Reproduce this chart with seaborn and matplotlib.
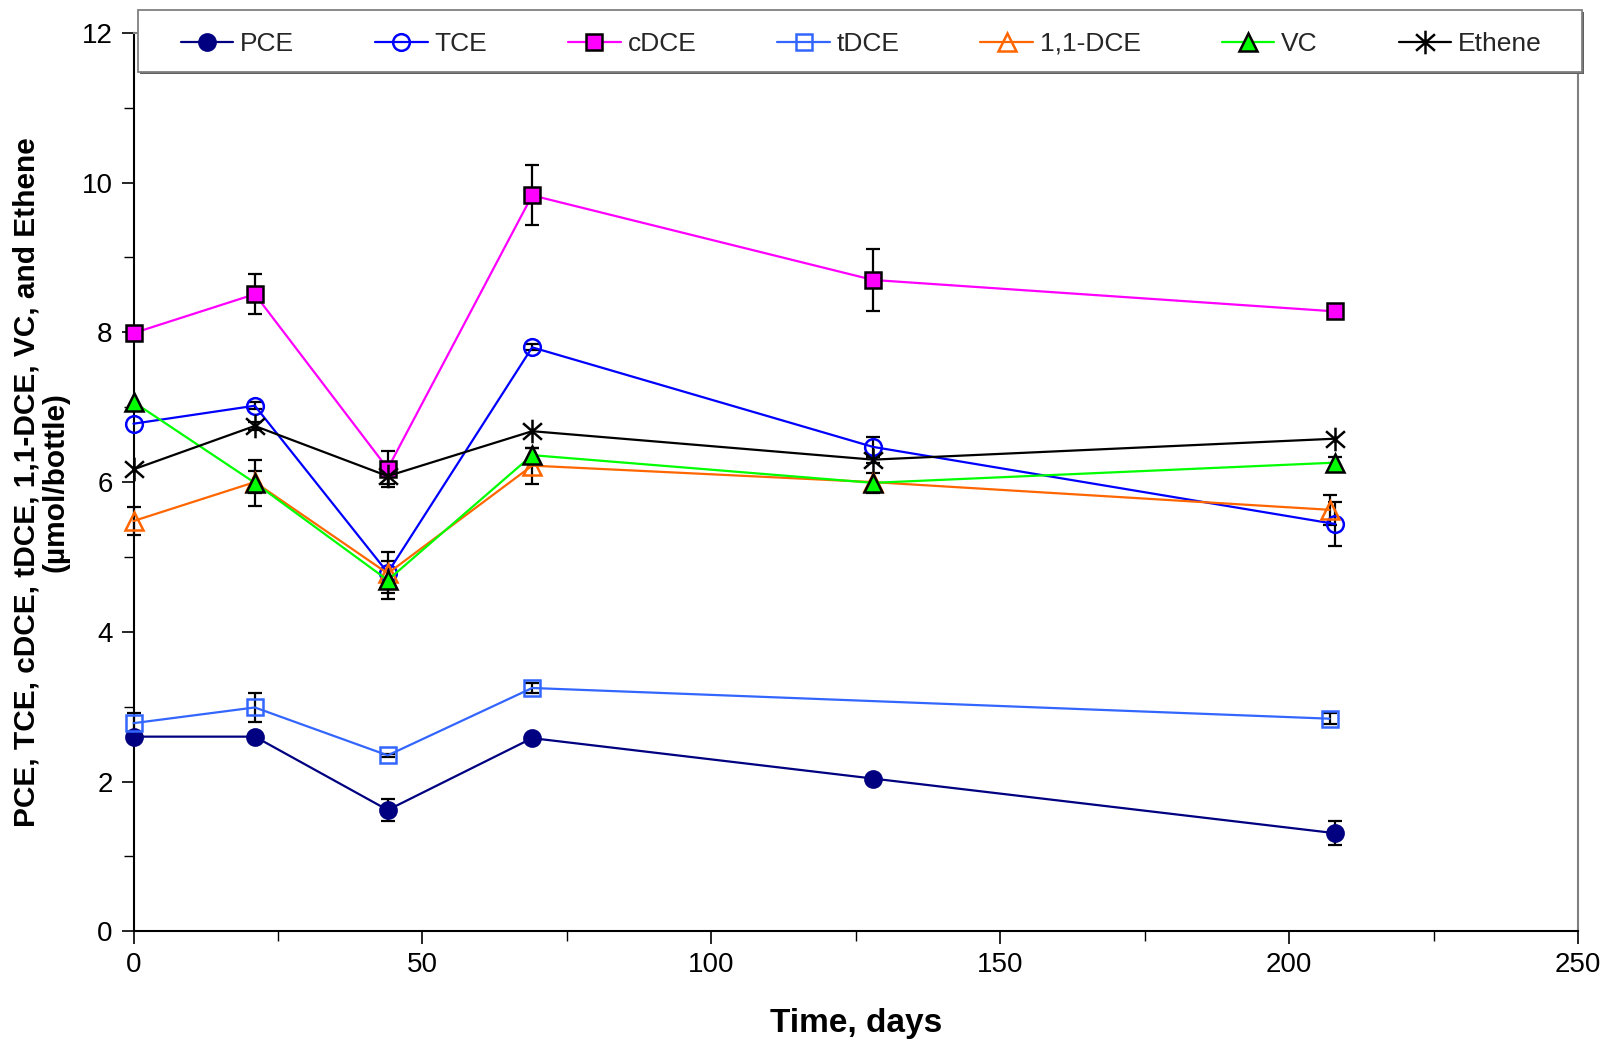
import numpy as np
import pandas as pd
import matplotlib
matplotlib.use("Agg")
import matplotlib.pyplot as plt
from matplotlib.path import Path
from matplotlib.patches import Rectangle
import seaborn as sns

# ---- data ----
days = [0, 21, 44, 69, 128, 208]
days_b = [0, 21, 44, 69, 207]
days_c = [0, 21, 44, 69, 128, 207]

pce = [2.60, 2.60, 1.62, 2.58, 2.04, 1.31]
pce_err = [np.nan, np.nan, 0.15, np.nan, np.nan, 0.16]
tce = [6.78, 7.02, 4.79, 7.80, 6.47, 5.44]
tce_err = [np.nan, 0.05, 0.27, 0.04, 0.13, 0.30]
cdce = [7.99, 8.51, 6.18, 9.83, 8.70, 8.28]
cdce_err = [np.nan, 0.27, 0.24, 0.40, 0.42, np.nan]
tdce = [2.78, 2.99, 2.35, 3.25, 2.84]
tdce_err = [0.14, 0.19, 0.02, 0.07, 0.07]
dce11 = [5.48, 6.00, 4.78, 6.22, 6.00, 5.63]
dce11_err = [0.19, 0.15, np.nan, 0.24, np.nan, 0.20]
vc = [7.07, 5.99, 4.69, 6.36, 5.99, 6.26]
vc_err = [np.nan, 0.31, 0.25, 0.10, 0.13, 0.08]
ethene = [6.17, 6.75, 6.08, 6.68, 6.30, 6.58]
ethene_err = [np.nan, 0.05, 0.10, np.nan, 0.05, np.nan]

labels = ["PCE", "TCE", "cDCE", "tDCE", "1,1-DCE", "VC", "Ethene"]

sns.set_style("ticks")
plt.rcParams['font.family'] = ['Liberation Sans', 'DejaVu Sans']

W, H = 1610, 1042
fig = plt.figure(figsize=(W / 100, H / 100), dpi=100)
ax = fig.add_axes([133.5 / W, 1 - 931.3 / H, (1578 - 133.5) / W, (931.3 - 32.9) / H])

star = Path([(0, -1), (0, 1), (-0.8, -0.7), (0.8, 0.7), (-0.8, 0.7), (0.8, -0.7)],
            [Path.MOVETO, Path.LINETO, Path.MOVETO, Path.LINETO, Path.MOVETO, Path.LINETO])

series = [
    (labels[0], days, pce, pce_err, dict(color="#000080", marker="o", mfc="#000080", mec="#000080", mew=1.5, ms=12)),
    (labels[1], days, tce, tce_err, dict(color="#0000FF", marker="o", mfc="none", mec="#0000FF", mew=1.8, ms=12)),
    (labels[2], days, cdce, cdce_err, dict(color="#FF00FF", marker="s", mfc="#FF00FF", mec="black", mew=1.8, ms=11)),
    (labels[3], days_b, tdce, tdce_err, dict(color="#3366FF", marker="s", mfc="none", mec="#3366FF", mew=1.8, ms=11)),
    (labels[4], days_c, dce11, dce11_err, dict(color="#FF6600", marker="^", mfc="none", mec="#FF6600", mew=1.8, ms=13)),
    (labels[5], days, vc, vc_err, dict(color="#00FF00", marker="^", mfc="#00FF00", mec="black", mew=1.8, ms=13)),
    (labels[6], days, ethene, ethene_err, dict(color="black", marker=star, mfc="black", mec="black", mew=1.8, ms=17)),
]

for i, (lab, x, y, e, st) in enumerate(series):
    ax.errorbar(x, y, yerr=np.array(e, dtype=float), fmt="none", ecolor="black",
                elinewidth=1.6, capsize=5, capthick=1.6, zorder=2 + i * 0.1, clip_on=False)
    sns.lineplot(x=x, y=y, ax=ax, label=lab, linewidth=1.6, color=st["color"],
                 marker=st["marker"], markersize=st["ms"], markerfacecolor=st["mfc"],
                 markeredgecolor=st["mec"], markeredgewidth=st["mew"], zorder=3 + i * 0.1,
                 legend=False, sort=False, clip_on=False)

ax.set_xlim(0, 250)
ax.set_ylim(0, 12)
ax.set_xticks(np.arange(0, 251, 50))
ax.set_xticks(np.arange(25, 251, 50), minor=True)
ax.set_yticks(np.arange(0, 13, 2))
ax.set_yticks(np.arange(1, 12, 2), minor=True)
ax.tick_params(axis="both", which="major", labelsize=20, length=9, width=1.2, color="black",
               direction="out", pad=6, labelcolor="black")
ax.tick_params(axis="both", which="minor", length=7, width=1.0, color="black", direction="out")
for s in ["left", "bottom"]:
    ax.spines[s].set_color("black")
    ax.spines[s].set_linewidth(1.5)
for s in ["top", "right"]:
    ax.spines[s].set_color("#808080")
    ax.spines[s].set_linewidth(1.5)

ax.set_xlabel("Time, days", fontsize=24, fontweight="bold", color="black")
ax.set_ylabel("PCE, TCE, cDCE, tDCE, 1,1-DCE, VC, and Ethene\n(µmol/bottle)",
              fontsize=21.5, fontweight="bold", linespacing=1.05, color="black")
ax.xaxis.set_label_coords(0.5, -0.085)
ax.yaxis.set_label_coords(-0.044, 0.5)

# legend frame (with offset shadow) drawn as figure patches
x0, x1, yt, yb = 137.7, 1582, 10, 72
fig.patches.append(Rectangle(((x0 + 2) / W, 1 - (yb + 2) / H), (x1 - x0) / W, (yb - yt) / H,
                             transform=fig.transFigure, facecolor="#606060", edgecolor="none", zorder=3))
fig.patches.append(Rectangle((x0 / W, 1 - yb / H), (x1 - x0) / W, (yb - yt) / H,
                             transform=fig.transFigure, facecolor="white", edgecolor="#808080",
                             linewidth=1.3, zorder=3.1))

hl = [h for h in ax.get_lines() if h.get_label() in labels]
leg = fig.legend(hl, [h.get_label() for h in hl], loc="center",
                 bbox_to_anchor=(180.7 / W, 1 - (yb + 3) / H, (1541.7 - 180.7) / W, (yb - yt) / H),
                 mode="expand", ncol=7, fontsize=19, frameon=False,
                 handlelength=2.0, handletextpad=0.25, borderaxespad=0, borderpad=0)
leg.set_zorder(4)

fig.savefig("out.png", dpi=100)
